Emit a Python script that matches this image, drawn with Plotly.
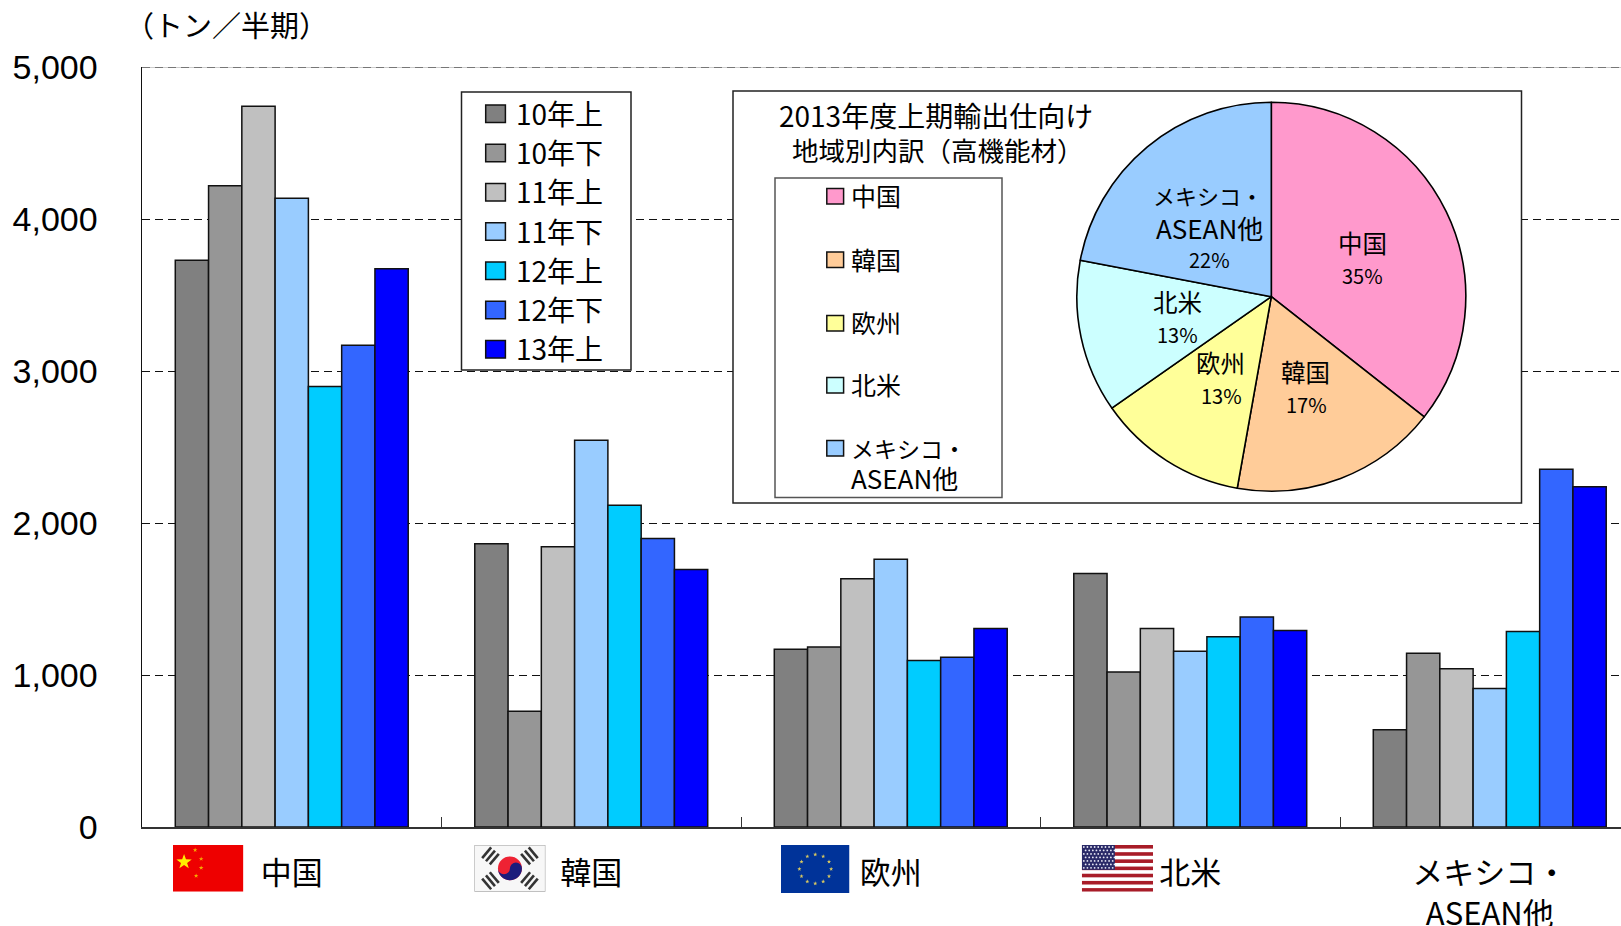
import base64
import math
import plotly.graph_objects as go

# ---------- data ----------
categories = ["中国", "韓国", "欧州", "北米", "メキシコ・<br>ASEAN他"]
periods = ["10年上", "10年下", "11年上", "11年下", "12年上", "12年下", "13年上"]
china = [3728, 4218, 4741, 4136, 2898, 3170, 3673]
korea = [1864, 762, 1843, 2544, 2116, 1898, 1694]
europe = [1170, 1184, 1633, 1762, 1095, 1116, 1306]
north_america = [1667, 1020, 1306, 1156, 1252, 1381, 1293]
mexico_asean = [639, 1143, 1041, 912, 1286, 2354, 2238]
period_colors = ["#808080", "#969696", "#C0C0C0", "#99CCFF", "#00CCFF", "#3366FF", "#0000FF"]

pie_labels = ["中国", "韓国", "欧州", "北米", "メキシコ・<br>ASEAN他"]
pie_values = [35.6, 17.2, 12.5, 12.7, 22.0]
pie_percent_text = ["35%", "17%", "13%", "13%", "22%"]
pie_colors = ["#FF99CC", "#FFCC99", "#FFFF99", "#CCFFFF", "#99CCFF"]

y_ticks = [0, 1000, 2000, 3000, 4000, 5000]
y_tick_text = ["0", "1,000", "2,000", "3,000", "4,000", "5,000"]

# ---------- layout constants (page pixels) ----------
W, H = 1621, 926
L, T, B = 142, 67, 827
CAT_W = 299.5
FONT = "Noto Sans CJK JP"


def ax_x(px):
    return -0.5 + (px - L) / CAT_W


def ax_y(py):
    return (B - py) / (B - T) * 5000


def pap_x(px):
    return (px - L) / (W - L)


def pap_y(py):
    return (B - py) / (B - T)


def star(cx, cy, r, fill):
    pts = []
    for i in range(10):
        a = -math.pi / 2 + i * math.pi / 5
        rr = r if i % 2 == 0 else r * 0.4
        pts.append(f"{cx + rr * math.cos(a):.2f},{cy + rr * math.sin(a):.2f}")
    return f'<polygon points="{" ".join(pts)}" fill="{fill}"/>'


def uri(w, h, body):
    svg = (f'<svg xmlns="http://www.w3.org/2000/svg" width="{w}" height="{h}" '
           f'viewBox="0 0 {w} {h}" preserveAspectRatio="none">{body}</svg>')
    return "data:image/svg+xml;base64," + base64.b64encode(svg.encode()).decode()


def flag_china():
    b = '<rect width="70" height="47" fill="#EE0000"/>'
    b += star(11, 17, 8, "#FFEE00")
    for x, y in [(22, 5), (28, 14), (28, 23), (23, 31)]:
        b += star(x, y, 2.4, "#F5A800")
    return uri(70, 47, b)


def flag_korea():
    b = '<rect width="71" height="47" fill="#F7F7F7" stroke="#999" stroke-width="1"/>'
    b += '<ellipse cx="35.5" cy="23.5" rx="12" ry="12" fill="#EE2233"/>'
    b += '<path d="M23.5 23.5 A6 6 0 0 0 35.5 23.5 A6 6 0 0 1 47.5 23.5 A12 12 0 0 1 23.5 23.5Z" fill="#1C1C7C"/>'
    for (x, y, a) in [(16, 11, -50), (55, 11, 50), (16, 36, 50), (55, 36, -50)]:
        b += f'<g transform="rotate({a} {x} {y})" fill="#333">'
        for dy in (-5, 0, 5):
            b += f'<rect x="{x - 7}" y="{y + dy - 1.3}" width="14" height="2.6"/>'
        b += '</g>'
    return uri(71, 47, b)


def flag_eu():
    b = '<rect width="69" height="48" fill="#003399"/>'
    for i in range(12):
        a = i * math.pi / 6
        b += star(34.5 + 16 * math.sin(a), 24 - 14.5 * math.cos(a), 2.2, "#D8C860")
    return uri(69, 48, b)


def flag_us():
    b = '<rect width="71" height="47" fill="#fff"/>'
    for i in range(7):
        y = i * 47 / 6.5
        b += f'<rect y="{y:.2f}" width="71" height="{47 / 13:.2f}" fill="#A81C28"/>'
    b += '<rect width="33" height="25" fill="#2A2A68"/>'
    for r in range(7):
        for c in range(9):
            b += f'<circle cx="{2 + c * 3.6 + (r % 2) * 1.8:.1f}" cy="{2 + r * 3.5:.1f}" r="0.9" fill="#E8E8F4"/>'
    return uri(71, 47, b)


# ---------- traces ----------
rows = [china, korea, europe, north_america, mexico_asean]
fig = go.Figure()
for i, period in enumerate(periods):
    fig.add_trace(go.Bar(
        name=period, x=categories, y=[row[i] for row in rows],
        marker=dict(color=period_colors[i], line=dict(color="#111111", width=1.5)),
        showlegend=False, hoverinfo="skip",
    ))

pie_r = 194.5
pie_cx, pie_cy = 1271.3, 296.7
plot_w, plot_h = W - L, B - T
fig.add_trace(go.Pie(
    labels=pie_labels, values=pie_values, sort=False, direction="clockwise", rotation=0,
    marker=dict(colors=pie_colors, line=dict(color="#000000", width=1.6)),
    textinfo="none", showlegend=False, hoverinfo="skip",
    domain=dict(
        x=[(pie_cx - pie_r - L) / plot_w, (pie_cx + pie_r - L) / plot_w],
        y=[(B - pie_cy - pie_r) / plot_h, (B - pie_cy + pie_r) / plot_h],
    ),
))

# ---------- boxes, swatches, texts ----------
shapes, annotations = [], []


def box(x0, y0, x1, y1, color="#222222", width=1.5):
    shapes.append(dict(type="rect", layer="between", xref="x", yref="y",
                       x0=ax_x(x0), x1=ax_x(x1), y0=ax_y(y0), y1=ax_y(y1),
                       fillcolor="#FFFFFF", line=dict(color=color, width=width)))


def swatch(x0, y0, x1, y1, color):
    shapes.append(dict(type="rect", layer="above", xref="paper", yref="paper",
                       x0=pap_x(x0), x1=pap_x(x1), y0=pap_y(y0), y1=pap_y(y1),
                       fillcolor=color, line=dict(color="#111111", width=1.5)))


def label(x, y, text, size, anchor="center", family=FONT):
    annotations.append(dict(xref="paper", yref="paper", x=pap_x(x), y=pap_y(y),
                            text=text, showarrow=False, xanchor=anchor, yanchor="middle",
                            align=anchor if anchor != "center" else "center",
                            font=dict(family=family, size=size, color="#000000"),
                            borderpad=0, borderwidth=0))


# top border of the plot: thin grey line with the dashed 5,000 line on it
shapes.append(dict(type="line", layer="below", xref="paper", yref="y", x0=0, x1=1,
                   y0=5000, y1=5000, line=dict(color="#999999", width=1)))
shapes.append(dict(type="line", layer="below", xref="paper", yref="y", x0=0, x1=1,
                   y0=5000, y1=5000, line=dict(color="#222222", width=1, dash="8px,5px")))

# period legend
box(461.5, 92, 631, 370)
for i, period in enumerate(periods):
    y = 113.8 + i * 39.25
    swatch(485.7, y - 8.8, 505.4, y + 8.8, period_colors[i])
    label(516, y - 1, period, 28, "left")

# inset with the pie
box(733, 91, 1521.5, 503)
label(936, 115.5, "2013年度上期輸出仕向け", 28)
label(938, 149.5, "地域別内訳（高機能材）", 26.5)
box(775, 178, 1002, 497.5, color="#555555")
inset_rows = [196, 259.5, 323, 385, 448]
for i, y in enumerate(inset_rows):
    swatch(826.8, y - 7.5, 843.6, y + 8, pie_colors[i])
for y, text in zip(inset_rows[:4], pie_labels[:4]):
    label(851, y - 1, text, 25, "left")
first_line, second_line = pie_labels[4].split("<br>")
label(851, inset_rows[4], first_line, 23, "left")
label(851, 478, second_line, 26, "left")

# pie labels
pie_name_pos = [(1362, 242), (1305, 371), (1220, 362), (1177, 301)]
pie_pct_pos = [(1362, 275), (1306, 404), (1221, 396), (1177, 334), (1209.5, 259)]
for (x, y), text in zip(pie_name_pos, pie_labels[:4]):
    label(x, y, text, 24.5)
label(1208, 195, first_line, 22)
label(1209, 227, second_line, 26)
for (x, y), text in zip(pie_pct_pos, pie_percent_text):
    label(x, y, text, 20)

label(125, 24, "（トン／半期）", 29, "left")

images = [
    dict(source=flag_china(), x0=173, x1=243.4, y0=845, y1=891.7),
    dict(source=flag_korea(), x0=474.5, x1=545.4, y0=845, y1=891.7),
    dict(source=flag_eu(), x0=781, x1=849.5, y0=845, y1=893),
    dict(source=flag_us(), x0=1081.8, x1=1153, y0=845, y1=891.7),
]
layout_images = [dict(source=d["source"], xref="paper", yref="paper", x=pap_x(d["x0"]), y=pap_y(d["y0"]),
                      sizex=(d["x1"] - d["x0"]) / (W - L), sizey=(d["y1"] - d["y0"]) / (B - T),
                      xanchor="left", yanchor="top", sizing="stretch", layer="above")
                 for d in images]

fig.update_layout(
    width=W, height=H, autosize=False,
    margin=dict(l=L, r=0, t=T, b=H - B, pad=0),
    paper_bgcolor="#FFFFFF", plot_bgcolor="#FFFFFF",
    barmode="group", bargap=2 / 9, bargroupgap=0,
    shapes=shapes, annotations=annotations, images=layout_images,
    xaxis=dict(
        type="category", categoryorder="array", categoryarray=categories,
        range=[-0.5, ax_x(W)], autorange=False, fixedrange=True,
        showline=True, linecolor="#333333", linewidth=2,
        showgrid=False, zeroline=False,
        tickson="boundaries", ticks="inside", ticklen=10, tickwidth=1, tickcolor="#333333",
        tickfont=dict(family=FONT, size=31, color="#000000"),
        ticklabelstandoff=18, automargin=False,
    ),
    yaxis=dict(
        range=[0, 5000], autorange=False, fixedrange=True,
        tickvals=y_ticks, ticktext=y_tick_text,
        showline=True, linecolor="#111111", linewidth=1.5,
        showgrid=True, gridcolor="#111111", gridwidth=1, griddash="8px,5px",
        zeroline=False, ticks="",
        tickfont=dict(family="Liberation Sans", size=34, color="#000000"),
        ticklabelstandoff=36, automargin=False,
    ),
)

fig.write_html(
    "out.html",
    config=dict(displayModeBar=False, staticPlot=True),
    post_script="document.body.style.margin='0';document.body.style.overflow='hidden';",
)
